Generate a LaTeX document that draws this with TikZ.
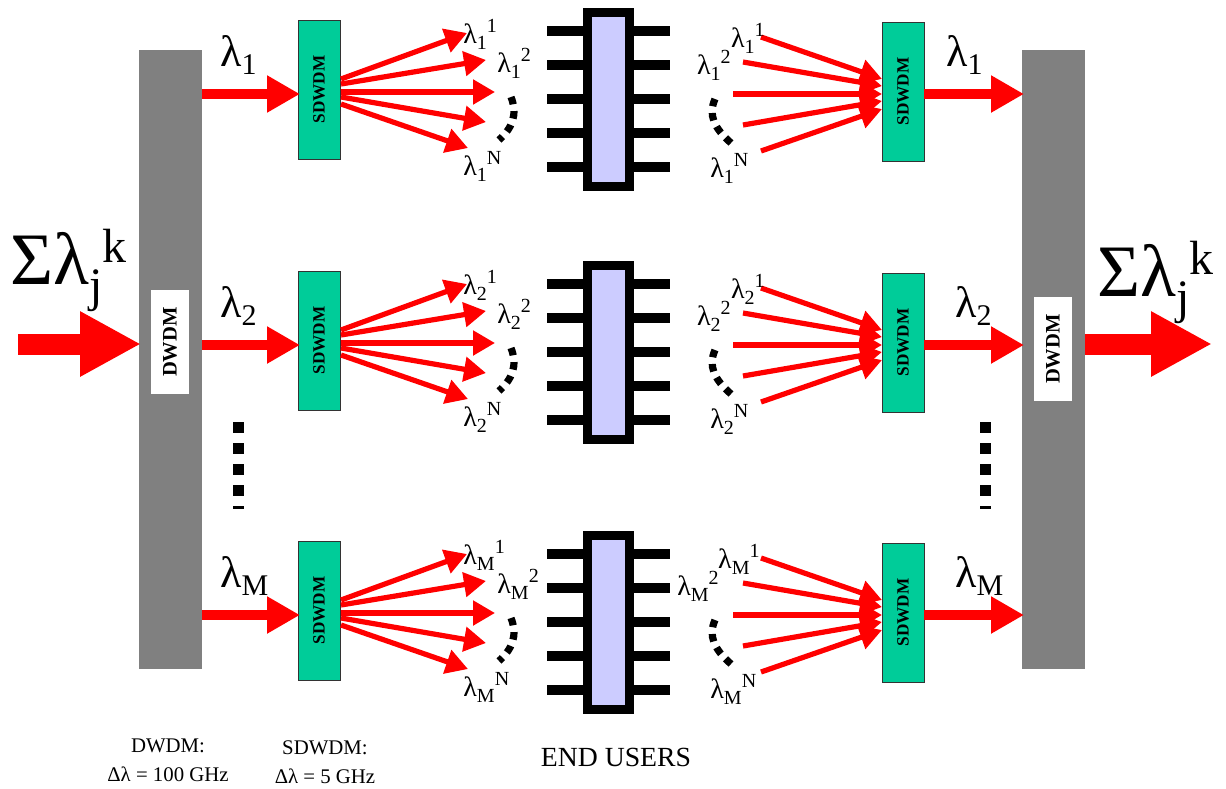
\documentclass[tikz,border=0pt]{standalone}
\usepackage{fontspec}
\setmainfont{Liberation Serif}
\usetikzlibrary{arrows.meta}
\definecolor{sdgreen}{HTML}{00CC99}
\definecolor{chipblue}{HTML}{CCCCFF}
\newcommand{\fs}[1]{\fontsize{#1}{#1}\selectfont}
% wavelength with subscript and then superscript, as run-on text
\newcommand{\lamsmall}[2]{{\fs{14}λ\raisebox{-3pt}{\fs{10}#1}\raisebox{5.5pt}{\fs{10}#2}}}
\newcommand{\lambig}[1]{{\fs{22}λ\raisebox{-4pt}{\fs{15}#1}}}
\newcommand{\lamsum}{{\fs{37}Σλ\raisebox{-8.5pt}{\fs{24}j}\raisebox{11pt}{\fs{24}k}}}
\tikzset{
  bar/.style={fill=black!50,minimum width=31.5pt,minimum height=309.5pt,inner sep=0pt,outer sep=0pt},
  dwdmbox/.style={fill=white,rotate=90,minimum width=52pt,minimum height=19pt,inner sep=0pt,font=\fs{10.3}\bfseries},
  sdbox/.style={draw=black!80,line width=.5pt,fill=sdgreen,rotate=90,minimum width=69.5pt,minimum height=21pt,inner sep=0pt,outer sep=0pt,font=\fs{8.6}\bfseries},
  chip/.style={draw=black,line width=4.5pt,fill=chipblue,minimum width=21pt,minimum height=87pt,inner sep=0pt,outer sep=0pt},
  pin/.style={line width=5pt},
  fan/.style={red,line width=2.6pt,-{Triangle[length=11pt,width=12pt]}},
  feed/.style={red,line width=5pt,shorten >=-1pt,-{Triangle[length=16.5pt,width=17.5pt]}},
  trunk/.style={red,line width=10.5pt,shorten >=-1pt,-{Triangle[length=30.5pt,width=30.5pt]}},
  dashes/.style={line width=3.6pt,dash pattern=on 3.8pt off 3.4pt},
  vdots/.style={line width=5.5pt,dash pattern=on 5.5pt off 5pt}
}
\begin{document}
\begin{tikzpicture}[x=.5pt,y=-.5pt]
  \useasboundingbox (0,0) rectangle (1226,788);
  \node[bar] (dwl) at (170.5,359.5) {};
  \node[bar] (dwr) at (1053.5,359.5) {};
  \node[dwdmbox] (dwlbl) at (170,342) {DWDM};
  \node[dwdmbox] (dwrbl) at (1053,349) {DWDM};
  % rows: name, shift of row, shift of chip, labels at the right, lambda at the right
  \foreach \row/\dy/\dc/\xa/\xb/\xc in {1/0/0/765/731/946,2/251/253/765/731/955,M/521/523/760/719/955}{
    \begin{scope}[yshift=-.5pt*\dy]
      \node[sdbox] (sdl\row) at (319,89.5) {SDWDM};
      \node[sdbox] (sdr\row) at (903,91.5) {SDWDM};
      \coordinate (outl\row) at (dwl.east |- 0,94);
      \coordinate (inl\row) at (sdl\row.north |- 0,94);
      \coordinate (outr\row) at (sdr\row.south |- 0,94);
      \coordinate (inr\row) at (dwr.west |- 0,94);
      \draw[feed] (outl\row) -- (inl\row);
      \draw[feed] (outr\row) -- (inr\row);
      \node[anchor=base west,inner sep=0pt] (lbl\row) at (220,66) {\lambig{\row}};
      \node[anchor=base west,inner sep=0pt] (lbr\row) at (\xc,66) {\lambig{\row}};
      % left fan
      \foreach \i/\ys/\xt/\yt in {1/79/467/33,2/84/486/60,3/92/495/92,4/97/486/122,5/104/468/148}{
        \coordinate (fs\i) at (341,\ys);
        \coordinate (ft\i) at (\xt,\yt);
        \draw[fan] (fs\i) -- (ft\i);
      }
      % right fan
      \foreach \i/\xs/\ys/\yt in {1/761/37/79,2/743/62/86,3/733/94/94,4/743/125/101,5/761/151/109}{
        \coordinate (gs\i) at (\xs,\ys);
        \coordinate (gt\i) at (882,\yt);
        \draw[fan] (gs\i) -- (gt\i);
      }
      \node[anchor=base west,inner sep=0pt] (la\row) at (463,43) {\lamsmall{\row}{1}};
      \node[anchor=base west,inner sep=0pt] (lb\row) at (497,72) {\lamsmall{\row}{2}};
      \node[anchor=base west,inner sep=0pt] (ln\row) at (463,175) {\lamsmall{\row}{N}};
      \node[anchor=base east,inner sep=0pt] (ra\row) at (\xa,47) {\lamsmall{\row}{1}};
      \node[anchor=base east,inner sep=0pt] (rb\row) at (\xb,74) {\lamsmall{\row}{2}};
      \node[anchor=base west,inner sep=0pt] (rn\row) at (710,177) {\lamsmall{\row}{N}};
      \draw[dashes] (511,97) .. controls (518,115) and (512,128) .. (499,140);
      \draw[dashes] (715,99) .. controls (708,115) and (714,128) .. (731,143);
    \end{scope}
    \begin{scope}[yshift=-.5pt*\dc]
      \foreach \y in {31,65,99,133,167}
        \draw[pin] (547,\y) -- (670,\y);
      \node[chip] (chip\row) at (608.5,99.5) {};
    \end{scope}
  }
  \coordinate (srcl) at (18,344);
  \coordinate (dstl) at (dwl.west |- srcl);
  \coordinate (srcr) at (dwr.east |- srcl);
  \coordinate (dstr) at (1210,344);
  \draw[trunk] (srcl) -- (dstl);
  \draw[trunk] (srcr) -- (dstr);
  \node[anchor=base west,inner sep=0pt] (suml) at (10,284) {\lamsum};
  \node[anchor=base west,inner sep=0pt] (sumr) at (1097,296) {\lamsum};
  \draw[vdots] (238.5,422) -- (238.5,509);
  \draw[vdots] (985,422) -- (985,509);
  \node[align=center,inner sep=0pt,font=\fs{10.4}] (dwnote) at (168,760) {DWDM:\\[4pt]Δλ = 100 GHz};
  \node[align=center,inner sep=0pt,font=\fs{10.4}] (sdnote) at (325,762) {SDWDM:\\[4pt]Δλ = 5 GHz};
  \node[inner sep=0pt,font=\fs{13.85}] (users) at (616,757) {END USERS};
\end{tikzpicture}
\end{document}
